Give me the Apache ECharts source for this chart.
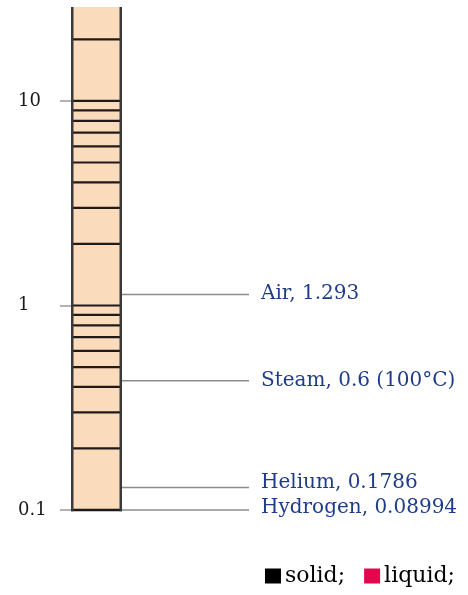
<!DOCTYPE html>
<html>
<head>
<meta charset="utf-8">
<script src="https://cdn.jsdelivr.net/npm/echarts@6/dist/echarts.min.js"></script>
<style>
  html, body { margin: 0; padding: 0; background: #ffffff; }
  #chart { width: 468px; height: 595px; }
</style>
</head>
<body>
<div id="chart"></div>
<script>
// ---- data ----
const AXIS_MIN = 0.1;
const AXIS_MAX = 28.8;                 // top of visible column
const AXIS_TICKS = [0.1, 1, 10];
const GRID_LINES = [0.2, 0.3, 0.4, 0.5, 0.6, 0.7, 0.8, 0.9,
                    1, 2, 3, 4, 5, 6, 7, 8, 9, 10, 20];
const GAS_NAMES = ['Air', 'Steam', 'Helium', 'Hydrogen'];
const GAS_LABELS = ['Air, 1.293', 'Steam, 0.6 (100°C)', 'Helium, 0.1786', 'Hydrogen, 0.08994'];
const GAS_MARK_AT = [1.13, 0.428, 0.129, 0.1];   // where the leader lines hit the column
const LEGEND_NAMES = ['solid;', 'liquid;'];

// ---- styles ----
const BAR_W = 51;
const LEADER_LEN = 127;
const LABEL_GAP = 12;
const LABEL_DY = [-1, 0, -5, -2];
const FONT = '"DejaVu Serif", "Liberation Serif", serif';

const chart = echarts.init(document.getElementById('chart'), null, { renderer: 'canvas' });

const option = {
  animation: false,
  backgroundColor: '#ffffff',
  grid: { left: 71, right: 0, top: 7, bottom: 85 },
  xAxis: { type: 'value', min: 0, max: 1, show: false },
  yAxis: {
    type: 'log',
    logBase: 10,
    min: AXIS_MIN,
    max: AXIS_MAX,
    offset: 2,
    axisLine: { show: false },
    splitLine: { show: false },
    axisTick: {
      show: true, length: 11, customValues: AXIS_TICKS,
      lineStyle: { color: '#9a9a9a', width: 1.5 }
    },
    axisLabel: {
      customValues: AXIS_TICKS,
      align: 'left',
      margin: 51,
      fontFamily: FONT,
      fontSize: 18,
      color: '#1a1a1a',
      formatter: v => String(v)
    }
  },
  legend: {
    left: 265, top: 565, padding: 0,
    icon: 'rect', itemWidth: 16, itemHeight: 15, itemGap: 19,
    selectedMode: false,
    textStyle: { fontFamily: FONT, fontSize: 22, color: '#000000', padding: [0, 0, 0, -1] },
    data: LEGEND_NAMES
  },
  series: [
    {
      type: 'custom',
      name: 'column',
      data: [[0, AXIS_MIN, AXIS_MAX]],
      renderItem: function (params, api) {
        const pb = api.coord([api.value(0), api.value(1)]);
        const pt = api.coord([api.value(0), api.value(2)]);
        const x = pb[0];
        const children = [{
          type: 'rect',
          shape: { x: x, y: pt[1], width: BAR_W, height: pb[1] - pt[1] },
          style: { fill: '#fadcbd' }
        }];
        GRID_LINES.forEach(v => {
          const y = api.coord([0, v])[1];
          children.push({
            type: 'line',
            shape: { x1: x, y1: y, x2: x + BAR_W, y2: y },
            style: { stroke: '#221a18', lineWidth: 2.2 }
          });
        });
        children.push({
          type: 'line',
          shape: { x1: x, y1: pb[1], x2: x + BAR_W, y2: pb[1] },
          style: { stroke: '#1a1a1a', lineWidth: 2.5 }
        });
        children.push({
          type: 'line',
          shape: { x1: x + 1.25, y1: pt[1], x2: x + 1.25, y2: pb[1] + 1.2 },
          style: { stroke: '#3a3a3a', lineWidth: 2.5 }
        });
        children.push({
          type: 'line',
          shape: { x1: x + BAR_W - 1.25, y1: pt[1], x2: x + BAR_W - 1.25, y2: pb[1] + 1.2 },
          style: { stroke: '#3a3a3a', lineWidth: 2.5 }
        });
        return { type: 'group', children: children };
      },
      silent: true
    },
    {
      type: 'custom',
      name: 'gases',
      data: GAS_MARK_AT.map((v, i) => [0, v, i]),
      renderItem: function (params, api) {
        const p = api.coord([api.value(0), api.value(1)]);
        const i = api.value(2);
        const x0 = p[0] + BAR_W;
        const x1 = x0 + LEADER_LEN;
        return {
          type: 'group',
          children: [
            {
              type: 'line',
              shape: { x1: x0, y1: p[1], x2: x1, y2: p[1] },
              style: { stroke: '#8c8c8c', lineWidth: 1.5 }
            },
            {
              type: 'text',
              x: x1 + LABEL_GAP,
              y: p[1] + LABEL_DY[i],
              style: {
                text: GAS_LABELS[i],
                fill: '#1f3c8a',
                font: '20px ' + FONT,
                textAlign: 'left',
                textVerticalAlign: 'middle'
              }
            }
          ]
        };
      },
      silent: true
    },
    { type: 'scatter', name: LEGEND_NAMES[0], data: [], itemStyle: { color: '#000000', opacity: 1 } },
    { type: 'scatter', name: LEGEND_NAMES[1], data: [], itemStyle: { color: '#e3064c', opacity: 1 } }
  ]
};

chart.setOption(option);
</script>
</body>
</html>
